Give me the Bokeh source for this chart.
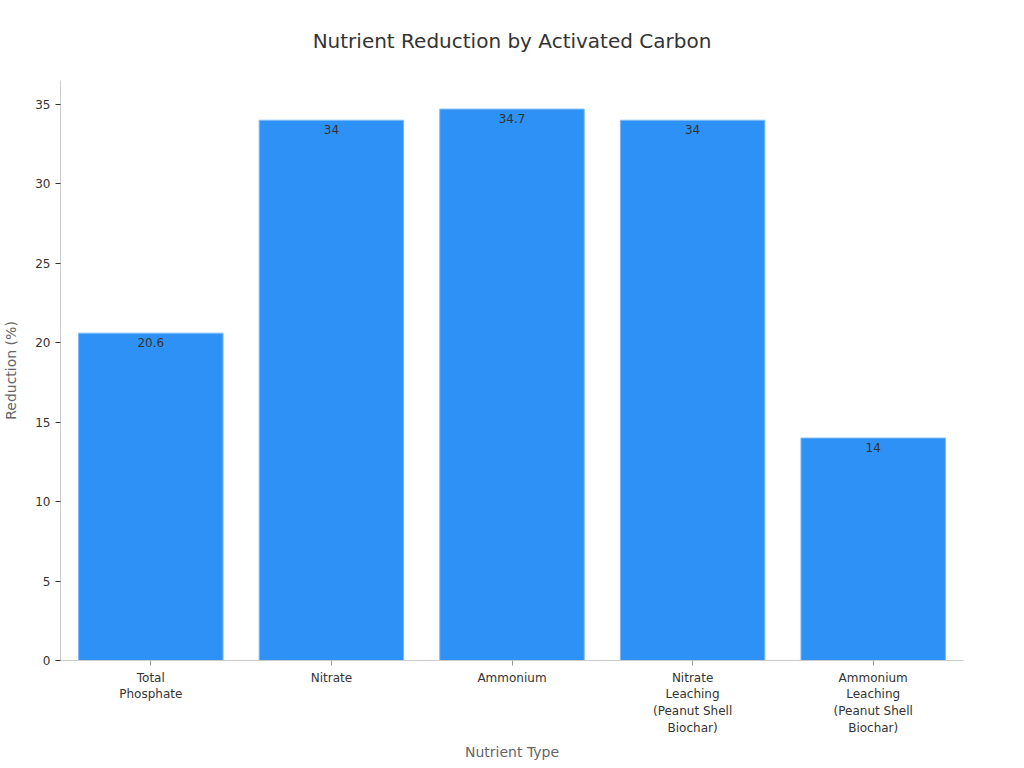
from bokeh.plotting import figure
from bokeh.models import Range1d, FactorRange, ColumnDataSource, LabelSet
from bokeh.core.properties import value
from bokeh.embed import file_html
from bokeh.resources import INLINE

title_text = "Nutrient Reduction by Activated Carbon"
categories = ["Total\nPhosphate", "Nitrate", "Ammonium",
              "Nitrate\nLeaching\n(Peanut Shell\nBiochar)",
              "Ammonium\nLeaching\n(Peanut Shell\nBiochar)"]
reduction = [20.6, 34, 34.7, 34, 14]
value_labels = ["20.6", "34", "34.7", "34", "14"]

FONT = "DejaVu Sans"

src = ColumnDataSource(dict(cat=categories, val=reduction, lab=value_labels))

p = figure(width=1008, height=752, output_backend="svg", toolbar_location=None,
           x_range=FactorRange(*categories, range_padding=0),
           y_range=Range1d(0, 36.5),
           frame_width=903, frame_height=580,
           min_border_left=52, min_border_right=53, min_border_top=80, min_border_bottom=100)

p.title.text = title_text
p.title.align = "center"
p.title.vertical_align = "top"
p.title.text_font = FONT
p.title.text_font_size = "20px"
p.title.text_font_style = "normal"
p.title.text_color = "#333333"
p.title.standoff = 51

p.vbar(x="cat", top="val", width=0.8, source=src,
       fill_color="#2E91F5", line_color="#7DBBF7", line_width=1)

labels = LabelSet(x="cat", y="val", text="lab", source=src,
                  text_align="center", text_baseline="top", y_offset=-5,
                  text_font=value(FONT), text_font_size="12px", text_color="#333333")
p.add_layout(labels)

p.xgrid.visible = False
p.ygrid.visible = False
p.outline_line_color = None

p.xaxis.axis_label = "Nutrient Type"
p.yaxis.axis_label = "Reduction (%)"
for ax in (p.xaxis[0], p.yaxis[0]):
    ax.axis_label_text_font = FONT
    ax.axis_label_text_font_size = "14px"
    ax.axis_label_text_font_style = "normal"
    ax.axis_label_text_color = "#666666"
    ax.major_label_text_font = FONT
    ax.major_label_text_font_size = "12px"
    ax.major_label_text_color = "#333333"
    ax.axis_line_color = "#cccccc"
    ax.minor_tick_line_color = None

p.xaxis.major_tick_line_color = "#999999"
p.xaxis.major_tick_out = 5
p.xaxis.major_tick_in = 0
p.xaxis.axis_label_standoff = 6
p.yaxis.major_tick_line_color = "#333333"
p.yaxis.major_tick_out = 5
p.yaxis.major_tick_in = 0
p.yaxis.ticker = [0, 5, 10, 15, 20, 25, 30, 35]
p.yaxis.axis_label_standoff = 13

open("out.html", "w").write(file_html(p, INLINE))
